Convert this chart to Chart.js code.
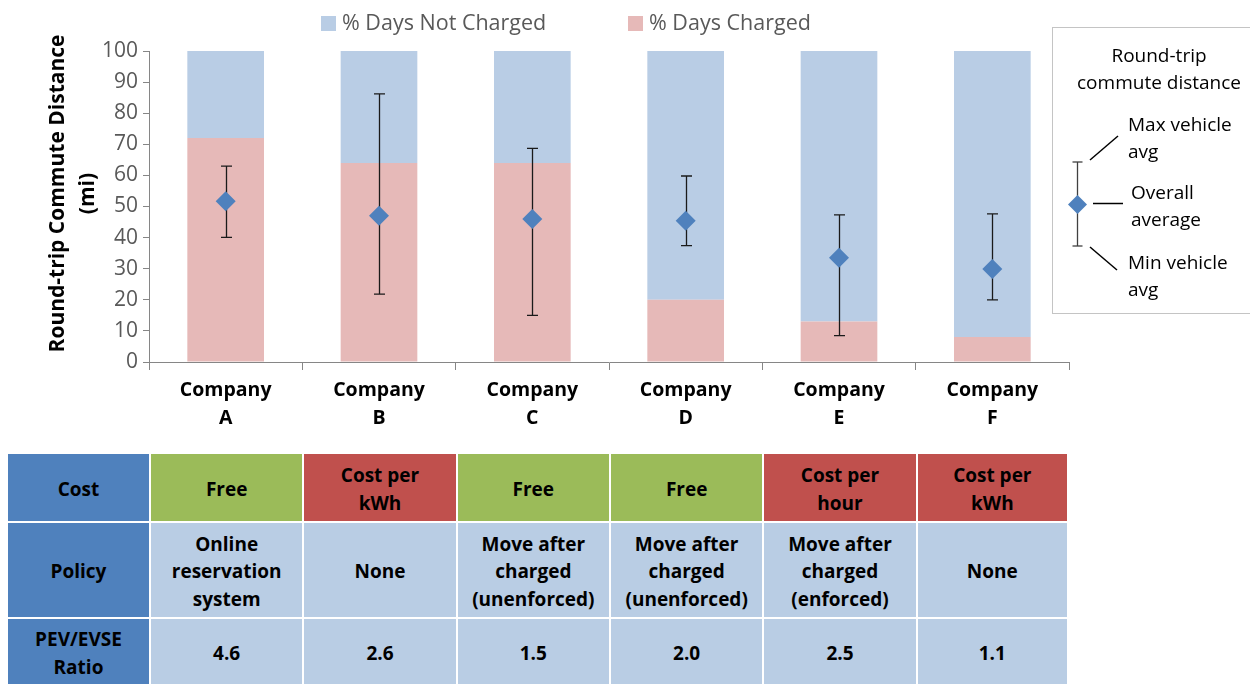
<!DOCTYPE html>
<html>
<head>
<meta charset="utf-8">
<script src="https://cdn.jsdelivr.net/npm/chart.js@4.4.1/dist/chart.umd.min.js"></script>
<style>
  body { margin: 0; background: #fff; font-family: "Open Sans", sans-serif; }
  #wrap { position: relative; width: 1250px; height: 684px; overflow: hidden; background: #fff; }
  #grafico { position: absolute; left: 0; top: 0; }
  .leyenda-item { position: absolute; top: 7px; font-size: 21.5px; color: #595959; white-space: nowrap; line-height: 30px; }
  .leyenda-item span { display: inline-block; width: 15px; height: 15px; margin-right: 6px; vertical-align: -1px; }
  #cajaLeyenda { position: absolute; left: 1052px; top: 27px; width: 220px; height: 287px; border: 1.5px solid #c4c4c4; box-sizing: border-box; }
  .caja-txt { position: absolute; font-size: 19px; color: #000; white-space: pre-line; line-height: 27px; }
  .celda { position: absolute; display: flex; align-items: center; justify-content: center; text-align: center; box-sizing: border-box;
           padding-top: 4px; font-weight: bold; font-size: 19px; line-height: 27.5px; white-space: pre-line; color: #000; }
</style>
</head>
<body>
<div id="wrap">
  <canvas id="grafico" width="1250" height="440"></canvas>
  <div id="cajaLeyenda">
    <div class="caja-txt" style="left:0;width:212px;text-align:center;top:14px;">Round-trip
commute distance</div>
    <svg width="80" height="260" style="position:absolute;left:0;top:0" xmlns="http://www.w3.org/2000/svg">
      <g stroke="#404040" stroke-width="1.3">
        <line x1="24.5" y1="134" x2="24.5" y2="218"/>
        <line x1="19.5" y1="134" x2="29.5" y2="134"/>
        <line x1="19.5" y1="218" x2="29.5" y2="218"/>
      </g>
      <polygon points="24.5,167 34,176.5 24.5,186 15,176.5" fill="#4F81BD"/>
      <g stroke="#000" stroke-width="1.5">
        <line x1="37" y1="132" x2="65" y2="108"/>
        <line x1="40" y1="175.5" x2="70" y2="175.5"/>
        <line x1="37" y1="219" x2="64" y2="242"/>
      </g>
    </svg>
    <div class="caja-txt" style="left:75px;top:83px;">Max vehicle
avg</div>
    <div class="caja-txt" style="left:78px;top:151px;">Overall
average</div>
    <div class="caja-txt" style="left:75px;top:221px;">Min vehicle
avg</div>
  </div>
  <div id="tabla"></div>
</div>
<script>
// datos
const empresas = [["Company", "A"], ["Company", "B"], ["Company", "C"], ["Company", "D"], ["Company", "E"], ["Company", "F"]];
const pctCargado = [72, 64, 64, 20, 13, 8];
const pctNoCargado = [28, 36, 36, 80, 87, 92];
const promedioGeneral = [51.7, 47, 46, 45.4, 33.5, 29.9];
const maxVehiculo = [63, 86.2, 68.7, 59.8, 47.3, 47.6];
const minVehiculo = [40.1, 21.8, 15, 37.4, 8.5, 20];
const ticksY = [0, 10, 20, 30, 40, 50, 60, 70, 80, 90, 100];

const filasTabla = ["Cost", "Policy", "PEV/EVSE\nRatio"];
const costos = ["Free", "Cost per\nkWh", "Free", "Free", "Cost per\nhour", "Cost per\nkWh"];
const politicas = ["Online\nreservation\nsystem", "None", "Move after\ncharged\n(unenforced)",
                   "Move after\ncharged\n(unenforced)", "Move after\ncharged\n(enforced)", "None"];
const ratios = ["4.6", "2.6", "1.5", "2.0", "2.5", "1.1"];

const FUENTE = "'Open Sans', sans-serif";

// barras de error (min / max por vehiculo), debajo del rombo
const pluginErrores = {
  id: "errores",
  beforeDatasetDraw(chart, args) {
    if (args.index !== 0) return;
    const { ctx, scales: { x, y } } = chart;
    ctx.save();
    ctx.strokeStyle = "#1a1a1a";
    ctx.lineWidth = 1.3;
    maxVehiculo.forEach((mx, i) => {
      const px = Math.round(x.getPixelForValue(i)) + 0.5;
      const y1 = y.getPixelForValue(mx);
      const y2 = y.getPixelForValue(minVehiculo[i]);
      ctx.beginPath();
      ctx.moveTo(px, y1); ctx.lineTo(px, y2);
      ctx.moveTo(px - 5.5, y1); ctx.lineTo(px + 5.5, y1);
      ctx.moveTo(px - 5.5, y2); ctx.lineTo(px + 5.5, y2);
      ctx.stroke();
    });
    ctx.restore();
  }
};

// titulo del eje Y en dos lineas
const pluginTituloY = {
  id: "tituloY",
  afterDraw(chart) {
    const { ctx, chartArea } = chart;
    const cy = (chartArea.top + chartArea.bottom) / 2 - 13;
    ctx.save();
    ctx.fillStyle = "#000";
    ctx.font = "bold 21px " + FUENTE;
    ctx.textAlign = "center";
    ctx.textBaseline = "middle";
    [["Round-trip Commute Distance", 58], ["(mi)", 88]].forEach(([t, cx]) => {
      ctx.save();
      ctx.translate(cx, cy);
      ctx.rotate(-Math.PI / 2);
      ctx.fillText(t, 0, 0);
      ctx.restore();
    });
    ctx.restore();
  }
};

const grafico = new Chart(document.getElementById("grafico").getContext("2d"), {
  type: "bar",
  data: {
    labels: empresas,
    datasets: [
      {
        type: "line", label: "Overall average", data: promedioGeneral, stack: "prom", order: 0,
        showLine: false, pointStyle: "rectRot", pointRadius: 10, pointBorderWidth: 0,
        pointBackgroundColor: "#4F81BD", pointBorderColor: "#4F81BD"
      },
      { label: "% Days Charged", data: pctCargado, backgroundColor: "#E6B9B8", stack: "pct", order: 1 },
      { label: "% Days Not Charged", data: pctNoCargado, backgroundColor: "#B9CDE5", stack: "pct", order: 2 }
    ]
  },
  options: {
    responsive: false,
    animation: false,
    devicePixelRatio: 1,
    events: [],
    layout: { padding: { top: 51, right: 181, left: 0, bottom: 0 } },
    datasets: { bar: { barPercentage: 0.5, categoryPercentage: 1 } },
    plugins: { legend: { display: false }, tooltip: { enabled: false } },
    scales: {
      x: {
        stacked: true,
        grid: { drawOnChartArea: false, offset: true, tickLength: 8, color: "#868686" },
        border: { color: "#868686" },
        ticks: { color: "#000", autoSkip: false, maxRotation: 0, padding: 7,
                 font: { family: FUENTE, size: 19.5, weight: "bold", lineHeight: 1.4 } },
        afterFit(s) { s.height = 78; }
      },
      y: {
        stacked: true, min: 0, max: 100,
        afterBuildTicks(s) { s.ticks = ticksY.map(v => ({ value: v })); },
        grid: { drawOnChartArea: false, tickLength: 6, color: "#868686" },
        border: { color: "#868686" },
        ticks: { color: "#595959", padding: 5, font: { family: FUENTE, size: 21 } },
        afterFit(s) { s.width = 149; }
      }
    }
  },
  plugins: [pluginErrores, pluginTituloY]
});

// leyenda superior
function crearLeyenda() {
  const wrap = document.getElementById("wrap");
  const pos = [321, 628];
  [2, 1].forEach((di, k) => {
    const ds = grafico.data.datasets[di];
    const d = document.createElement("div");
    d.className = "leyenda-item";
    d.style.left = pos[k] + "px";
    d.innerHTML = `<span style="background:${ds.backgroundColor}"></span>`;
    d.appendChild(document.createTextNode(ds.label));
    wrap.appendChild(d);
  });
}

// tabla inferior alineada con las categorias del eje X
function crearTabla() {
  const tabla = document.getElementById("tabla");
  const x = grafico.scales.x;
  const ancho = (x.right - x.left) / empresas.length;
  const filas = [[454, 521], [523, 617], [619, 684]];
  const contenido = [costos, politicas, ratios];
  const celda = (l, r, t, b, color, texto) => {
    const d = document.createElement("div");
    d.className = "celda";
    Object.assign(d.style, { left: l + "px", top: t + "px", width: (r - l) + "px", height: (b - t) + "px", background: color });
    d.textContent = texto;
    tabla.appendChild(d);
  };
  filas.forEach(([t, b], f) => {
    celda(8, x.left, t, b, "#4F81BD", filasTabla[f]);
    contenido[f].forEach((txt, i) => {
      const l = x.left + ancho * i + 2;
      const r = x.left + ancho * (i + 1) - (i === empresas.length - 1 ? 2 : 0);
      let color = "#B9CDE4";
      if (f === 0) color = txt === "Free" ? "#9BBB59" : "#C0504D";
      celda(l, r, t, b, color, txt);
    });
  });
}

crearLeyenda();
crearTabla();
</script>
</body>
</html>
